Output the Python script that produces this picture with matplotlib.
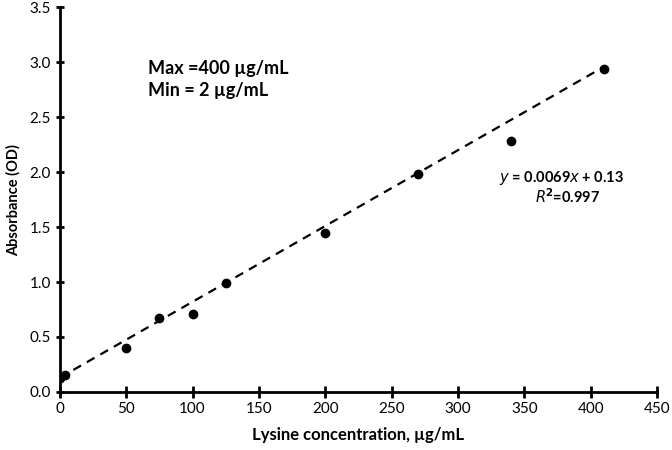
import numpy as np
import matplotlib
matplotlib.use("Agg")
from matplotlib import pyplot as plt

plt.rcParams['font.family'] = ['Lato', 'DejaVu Sans']

# lysine standard curve
conc = [0, 4, 50, 75, 100, 125, 200, 270, 340, 410]
absorb = [0.13, 0.155, 0.40, 0.67, 0.71, 0.99, 1.45, 1.98, 2.28, 2.94]
slope = 0.0069
intercept = 0.13
x_ticks = [0, 50, 100, 150, 200, 250, 300, 350, 400, 450]
y_ticks = [0.0, 0.5, 1.0, 1.5, 2.0, 2.5, 3.0, 3.5]

fig = plt.figure(figsize=(6.72, 4.5), dpi=100)
ax = fig.add_axes([0.089, 0.129, 0.889, 0.855])

fit_x = np.array([min(conc), max(conc)])
ax.plot(fit_x, slope * fit_x + intercept, color='black', linestyle=(0, (4, 3)), linewidth=1.6)
ax.plot(conc, absorb, 'o', color='black', markersize=6)

ax.set_xlim(0, 450)
ax.set_ylim(0, 3.5)
ax.set_xticks(x_ticks)
ax.set_yticks(y_ticks)
ax.set_yticklabels([f"{v:.1f}" for v in y_ticks])

for s in ['top', 'right']:
    ax.spines[s].set_visible(False)
for s in ['left', 'bottom']:
    ax.spines[s].set_linewidth(2)
ax.tick_params(direction='inout', length=8, width=2, labelsize=11, colors='black')
ax.tick_params(axis='y', length=6)

ax.set_xlabel("Lysine concentration, µg/mL", fontsize=12, fontweight='bold', labelpad=8)
ax.set_ylabel("Absorbance (OD)", fontsize=10.5, fontweight='bold', labelpad=6)

ax.text(0.148, 0.862, "Max =400 µg/mL\nMin = 2 µg/mL", transform=ax.transAxes,
        fontsize=13, fontweight='bold', va='top', linespacing=1.35)
ax.text(0.735, 0.545, "$\\bf{\\it{y}}$ = 0.0069$\\bf{\\it{x}}$ + 0.13", transform=ax.transAxes,
        fontsize=10.5, fontweight='bold')
ax.text(0.795, 0.49, "$\\bf{\\it{R}}^{2}$=0.997", transform=ax.transAxes,
        fontsize=10.5, fontweight='bold')

fig.savefig("out.png", dpi=100)
